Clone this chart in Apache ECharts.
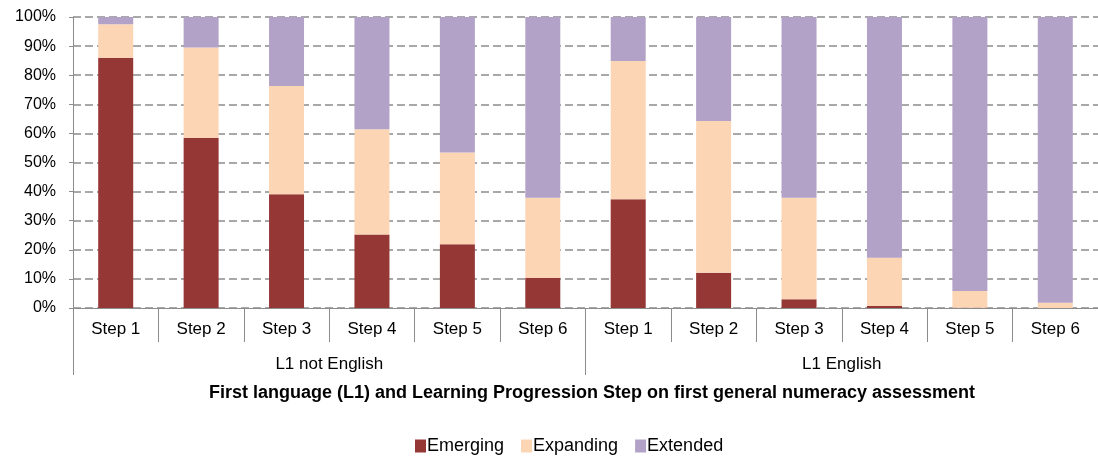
<!DOCTYPE html>
<html>
<head>
    <meta charset="utf-8" />
    <title>ECharts</title>
    <script src="https://cdn.jsdelivr.net/npm/echarts@6.0.0/dist/echarts.min.js"></script>
</head>
<body style="margin:0">
    <div id="main" style="width: 1098px;height:456px;"></div>
    <script type="text/javascript">
        // data (percent of learners)
        var steps = ['Step 1', 'Step 2', 'Step 3', 'Step 4', 'Step 5', 'Step 6',
                     'Step 1', 'Step 2', 'Step 3', 'Step 4', 'Step 5', 'Step 6'];
        var groups = ['L1 not English', 'L1 English'];
        var emerging  = [86.0, 58.5, 39.1, 25.3, 21.9, 10.4, 37.4, 12.1, 3.0, 0.7, 0.1, 0.0];
        var expanding = [11.5, 31.0, 37.2, 36.1, 31.5, 27.5, 47.5, 52.2, 34.9, 16.6, 5.7, 1.8];
        var extended  = [2.5, 10.5, 23.7, 38.6, 46.6, 62.1, 15.1, 35.7, 62.1, 82.7, 94.2, 98.2];

        var myChart = echarts.init(document.getElementById('main'));

        var font = 'Liberation Sans, Arial, sans-serif';
        var axisGrey = '#8c8c8c';

        var option = {
            textStyle: { fontFamily: font },
            animation: false,
            title: {
                text: 'First language (L1) and Learning Progression Step on first general numeracy assessment',
                left: 587,
                top: 379,
                textAlign: 'center',
                textStyle: { fontSize: 18, fontWeight: 'bold', color: '#000', fontFamily: font }
            },
            legend: {
                data: ['Emerging', 'Expanding', 'Extended'],
                left: 410,
                top: 432,
                itemWidth: 11,
                itemHeight: 13,
                itemGap: 17,
                icon: 'rect',
                textStyle: { fontSize: 18, color: '#000', padding: [0, 0, 0, -4] }
            },
            grid: { left: 73, right: -5, top: 17, bottom: 148 },
            xAxis: [
                {
                    type: 'category',
                    data: steps,
                    axisLine: { lineStyle: { color: axisGrey, width: 1 } },
                    axisTick: { show: true, length: 34, interval: 0, lineStyle: { color: axisGrey } },
                    axisLabel: { interval: 0, margin: 13, fontSize: 17, color: '#000' }
                },
                {
                    type: 'category',
                    data: groups,
                    position: 'bottom',
                    offset: 34,
                    axisLine: { show: false },
                    axisTick: { show: true, length: 33, interval: 0, lineStyle: { color: axisGrey } },
                    axisLabel: { margin: 14, fontSize: 17, color: '#000' }
                }
            ],
            yAxis: {
                type: 'value',
                min: 0,
                max: 100,
                interval: 10,
                axisLine: { show: true, lineStyle: { color: axisGrey } },
                axisTick: { show: true, length: 4, lineStyle: { color: axisGrey } },
                axisLabel: { formatter: '{value}%', fontSize: 16, color: '#000', margin: 17 },
                splitLine: { lineStyle: { color: axisGrey, type: [8, 4], width: 1.5 } }
            },
            series: [
                {
                    name: 'Emerging',
                    type: 'bar',
                    stack: 'total',
                    barWidth: 35,
                    data: emerging,
                    itemStyle: { color: '#953735' }
                },
                {
                    name: 'Expanding',
                    type: 'bar',
                    stack: 'total',
                    data: expanding,
                    itemStyle: { color: '#fcd5b5' }
                },
                {
                    name: 'Extended',
                    type: 'bar',
                    stack: 'total',
                    data: extended,
                    itemStyle: { color: '#b3a2c7' }
                }
            ]
        };

        myChart.setOption(option);
    </script>
</body>
</html>
